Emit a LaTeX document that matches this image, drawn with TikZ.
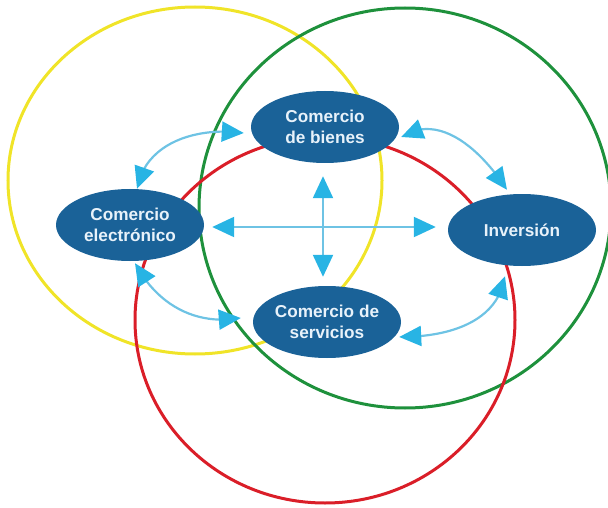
\documentclass[tikz,border=0pt]{standalone}
\usepackage{fontspec}
\setmainfont{Liberation Sans}
\usetikzlibrary{arrows.meta,bending,shapes.geometric}
\definecolor{nodeblue}{RGB}{26,98,152}
\definecolor{tipblue}{RGB}{40,180,228}
\definecolor{lineblue}{RGB}{110,195,228}
\definecolor{cyellow}{RGB}{240,228,40}
\definecolor{cgreen}{RGB}{30,145,60}
\definecolor{cred}{RGB}{218,30,40}
\definecolor{txt}{RGB}{232,242,250}
\begin{document}
\begin{tikzpicture}[x=1pt,y=1pt,
  circ/.style={line width=3pt},
  topic/.style={ellipse, fill=nodeblue, text=txt, font=\bfseries\fontsize{17.2}{21}\selectfont, align=center, minimum width=148pt, minimum height=72pt, inner sep=0pt},
  biarrow/.style={line width=2.2pt, draw=lineblue, {Triangle[length=22pt,width=20pt,color=tipblue]}-{Triangle[length=22pt,width=20pt,color=tipblue]}}
]
\useasboundingbox (0,0) rectangle (608,-508);
\draw[circ, cyellow] (195,-180.5) ellipse [x radius=187, y radius=173.5];
\draw[circ, cgreen] (405,-208) ellipse [x radius=206, y radius=200];
\draw[circ, cred] (325,-320) ellipse [x radius=190, y radius=183];

\node[topic] (bienes) at (325,-127) {Comercio\\de bienes};
\node[topic] (elec) at (130,-225) {Comercio\\electrónico};
\node[topic] (inv) at (522,-230) {Inversión};
\node[topic] (serv) at (327,-322) {Comercio de\\servicios};

\draw[biarrow] ([xshift=7pt]elec.north) to[out=80,in=172] ([shift={(-7pt,-6pt)}]bienes.west);
\draw[biarrow] ([shift={(2pt,-10pt)}]bienes.east) to[out=33,in=123] ([shift={(-15pt,4pt)}]inv.north);
\draw[biarrow] ([shift={(5pt,-2pt)}]elec.south) to[out=-62,in=190] ([shift={(-12pt,4pt)}]serv.west);
\draw[biarrow] ([shift={(-2pt,-15pt)}]serv.east) to[out=0,in=-99] ([shift={(-17pt,-10pt)}]inv.south);
\draw[biarrow] ([shift={(8pt,-2pt)}]elec.east) -- ([shift={(-12pt,3pt)}]inv.west);
\draw[biarrow] ([shift={(-2pt,-13pt)}]bienes.south) -- ([shift={(-4pt,9pt)}]serv.north);
\end{tikzpicture}
\end{document}
